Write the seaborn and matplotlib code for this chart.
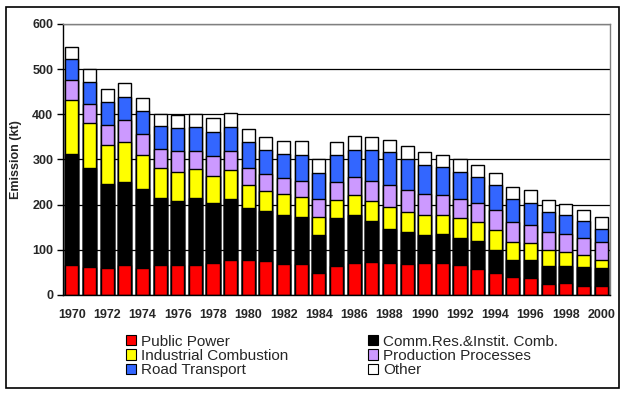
"""
Stacked emission bars 1970-2000 by source sector.
"""

import numpy as np
import matplotlib
matplotlib.use("Agg")
import matplotlib.pyplot as plt
from matplotlib.patches import Patch, Rectangle
from matplotlib.ticker import FixedLocator
import seaborn as sns

# ---------------------------------------------------------------------------
# Data (kt)
# ---------------------------------------------------------------------------
YEARS = [str(y) for y in range(1970, 2001)]

PUBLIC_POWER = [67, 63, 59, 67, 59, 66, 67, 67, 70, 77, 77, 75, 68, 68, 48, 64,
                70, 73, 70, 68, 70, 70, 66, 57, 48, 39, 37, 24, 26, 19, 21]
COMM_RES     = [245, 218, 186, 183, 175, 148, 140, 147, 133, 135, 115, 110, 108, 104, 84, 106,
                106, 91, 77, 71, 62, 66, 61, 62, 52, 39, 41, 41, 39, 42, 38]
INDUSTRIAL   = [119, 99, 86, 88, 77, 68, 66, 66, 61, 64, 52, 46, 48, 44, 41, 41,
                46, 43, 48, 45, 44, 42, 44, 42, 44, 40, 38, 35, 31, 28, 19]
PRODUCTION   = [45, 42, 45, 49, 45, 42, 45, 38, 43, 42, 38, 36, 36, 37, 40, 40,
                40, 46, 49, 49, 48, 44, 42, 43, 45, 44, 40, 40, 40, 38, 40]
ROAD         = [46, 49, 51, 51, 51, 51, 51, 53, 53, 53, 56, 55, 53, 58, 58, 60,
                60, 67, 72, 69, 63, 62, 60, 58, 55, 51, 48, 44, 40, 37, 29]
OTHER        = [27, 29, 29, 31, 29, 26, 29, 29, 31, 33, 29, 27, 29, 29, 29, 27,
                29, 29, 28, 27, 29, 27, 29, 25, 27, 27, 29, 27, 26, 25, 26]

SERIES = ["Public Power", "Comm.Res.&Instit. Comb.", "Industrial Combustion",
          "Production Processes", "Road Transport", "Other"]
COLORS = ["#FF0000", "#000000", "#FFFF00", "#CC99FF", "#3366FF", "#FFFFFF"]

Y_TICKS = [0, 100, 200, 300, 400, 500, 600]

# ---------------------------------------------------------------------------
# Figure
# ---------------------------------------------------------------------------
sns.set_style("white")
plt.rcParams["font.family"] = ["Liberation Sans", "DejaVu Sans"]

fig = plt.figure(figsize=(6.25, 3.93), dpi=100)
ax = fig.add_axes([0.1008, 0.2494, 0.8752, 0.6896])

values = np.array([PUBLIC_POWER, COMM_RES, INDUSTRIAL, PRODUCTION, ROAD, OTHER])
cum = np.cumsum(values, axis=0)

# draw totals first, lower layers on top of them
for i in reversed(range(len(SERIES))):
    sns.barplot(x=YEARS, y=cum[i], color=COLORS[i], saturation=1,
                edgecolor="black", linewidth=1.0, width=0.74, ax=ax)

ax.set_xlim(-0.5, len(YEARS) - 0.5)
ax.set_ylim(0, 600)
ax.set_yticks(Y_TICKS)
ax.set_yticklabels([str(t) for t in Y_TICKS], fontsize=9, fontweight="bold")
ax.yaxis.grid(True, color="black", linewidth=0.9)
ax.set_axisbelow(True)

ax.set_xticks(range(0, len(YEARS), 2))
ax.set_xticklabels(YEARS[::2], fontsize=9, fontweight="bold")
ax.xaxis.set_minor_locator(FixedLocator(np.arange(-0.5, len(YEARS), 1.0)))
ax.tick_params(axis="x", which="major", length=0, pad=10)
ax.tick_params(axis="x", which="minor", length=4, width=1, color="black", direction="out")
ax.tick_params(axis="y", length=4, width=1, color="black", direction="out", pad=3, left=True)

ax.set_xlabel("")
ax.set_ylabel("Emission (kt)", fontsize=9, fontweight="bold", labelpad=7)

for side in ["left", "bottom"]:
    ax.spines[side].set_color("black")
    ax.spines[side].set_linewidth(1.0)
for side in ["top", "right"]:
    ax.spines[side].set_color("#808080")
    ax.spines[side].set_linewidth(1.0)

# legend, row-major order in a two-column layout
order = [0, 2, 4, 1, 3, 5]
handles = [Patch(facecolor=COLORS[k], edgecolor="black", linewidth=0.8, label=SERIES[k])
           for k in order]
fig.legend(handles=handles, loc="upper left", bbox_to_anchor=(0.19, 0.168),
           bbox_transform=fig.transFigure, ncol=2, frameon=False, fontsize=11,
           handlelength=0.65, handleheight=0.65, handletextpad=0.3,
           columnspacing=5.25, labelspacing=0.02, borderpad=0)

# outer chart border
fig.patches.append(Rectangle((0.0096, 0.0127), 0.9808, 0.9695, transform=fig.transFigure,
                             fill=False, edgecolor="black", linewidth=1.2))

fig.savefig("out.png", dpi=100)
